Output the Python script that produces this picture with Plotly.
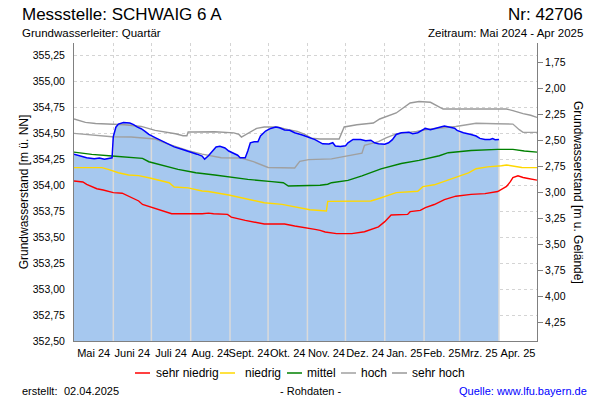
import numpy as np
import pandas as pd
import plotly.graph_objects as go

# ---------------- data ----------------
mess_dates = ["2024-05-01","2024-05-06","2024-05-11","2024-05-17","2024-05-21","2024-05-25","2024-05-29","2024-05-31",
              "2024-06-01","2024-06-03","2024-06-05","2024-06-09","2024-06-14","2024-06-17","2024-06-20","2024-06-23",
              "2024-06-26","2024-06-29","2024-07-04","2024-07-09","2024-07-14","2024-07-19","2024-07-25","2024-07-30",
              "2024-08-06","2024-08-10","2024-08-12","2024-08-15","2024-08-18","2024-08-21","2024-08-24","2024-08-28",
              "2024-08-31","2024-09-04","2024-09-07","2024-09-09","2024-09-13","2024-09-15","2024-09-17","2024-09-20",
              "2024-09-23","2024-09-25","2024-09-29","2024-10-03","2024-10-07","2024-10-10","2024-10-14","2024-10-18",
              "2024-10-22","2024-10-28","2024-11-02","2024-11-07","2024-11-13","2024-11-18","2024-11-21","2024-11-23",
              "2024-11-27","2024-12-01","2024-12-03","2024-12-07","2024-12-13","2024-12-17","2024-12-21","2024-12-24",
              "2024-12-27","2025-01-01","2025-01-04","2025-01-07","2025-01-10","2025-01-14","2025-01-20","2025-01-23",
              "2025-01-27","2025-01-30","2025-02-02","2025-02-06","2025-02-10","2025-02-14","2025-02-17","2025-02-21",
              "2025-02-25","2025-02-27","2025-03-04","2025-03-10","2025-03-14","2025-03-17","2025-03-21","2025-03-25",
              "2025-03-27","2025-03-29","2025-04-01"]
mess_vals = [354.300,354.285,354.265,354.255,354.262,354.252,354.258,354.265,
             354.470,354.560,354.590,354.605,354.600,354.585,354.560,354.545,
             354.520,354.490,354.460,354.430,354.395,354.370,354.347,354.330,
             354.300,354.282,354.252,354.285,354.330,354.370,354.375,354.360,
             354.330,354.310,354.290,354.266,354.266,354.330,354.410,354.420,
             354.420,354.475,354.523,354.548,354.562,354.555,354.533,354.530,
             354.507,354.485,354.465,354.440,354.400,354.398,354.410,354.378,
             354.373,354.380,354.410,354.442,354.442,354.430,354.435,354.410,
             354.400,354.395,354.410,354.440,354.490,354.507,354.510,354.497,
             354.507,354.528,354.548,354.535,354.545,354.562,354.570,354.562,
             354.550,354.529,354.507,354.490,354.475,354.452,354.442,354.442,
             354.450,354.440,354.442]

sn_dates = ["2024-05-01","2024-05-08","2024-05-11","2024-05-15","2024-05-19","2024-05-24","2024-05-28","2024-06-01",
            "2024-06-08","2024-06-13","2024-06-17","2024-06-21","2024-06-24","2024-06-29","2024-07-04","2024-07-09",
            "2024-07-15","2024-07-17","2024-08-10","2024-08-15","2024-08-19","2024-08-30","2024-09-02","2024-09-13",
            "2024-09-28","2024-10-14","2024-10-22","2024-11-02","2024-11-07","2024-11-11","2024-11-15","2024-11-24",
            "2024-12-06","2024-12-16","2024-12-21","2024-12-27","2025-01-01","2025-01-06","2025-01-19","2025-01-21",
            "2025-01-29","2025-02-02","2025-02-09","2025-02-13","2025-02-17","2025-02-26","2025-03-10","2025-03-21",
            "2025-03-31","2025-04-04","2025-04-07","2025-04-10","2025-04-12","2025-04-16","2025-04-20","2025-04-24",
            "2025-05-01"]
sn_vals = [354.041,354.032,354.009,353.987,353.967,353.955,353.945,353.929,
           353.924,353.897,353.874,353.849,353.816,353.797,353.777,353.758,
           353.739,353.726,353.726,353.732,353.726,353.720,353.694,353.662,
           353.627,353.627,353.608,353.590,353.575,353.566,353.550,353.534,
           353.534,353.553,353.571,353.600,353.650,353.714,353.720,353.746,
           353.758,353.785,353.815,353.840,353.862,353.895,353.913,353.920,
           353.940,353.968,353.990,354.035,354.074,354.092,354.075,354.066,
           354.050]

ni_dates = ["2024-05-01","2024-05-23","2024-05-28","2024-06-05","2024-06-13","2024-06-21","2024-06-29","2024-07-07",
            "2024-07-15","2024-07-19","2024-07-30","2024-08-10","2024-08-15","2024-08-31","2024-09-15","2024-09-28",
            "2024-10-12","2024-10-22","2024-11-03","2024-11-11","2024-11-16","2024-11-17","2024-12-21","2024-12-28",
            "2025-01-06","2025-01-10","2025-01-27","2025-01-31","2025-02-09","2025-02-20","2025-02-28","2025-03-08",
            "2025-03-14","2025-03-23","2025-04-03","2025-04-07","2025-04-19","2025-05-01"]
ni_vals = [354.170,354.170,354.153,354.121,354.099,354.093,354.073,354.047,
           354.025,353.984,353.975,353.945,353.940,353.907,353.864,353.832,
           353.816,353.795,353.765,353.757,353.752,353.845,353.849,353.875,
           353.912,353.930,353.943,353.987,354.005,354.055,354.090,354.120,
           354.160,354.178,354.188,354.196,354.172,354.170]

mi_dates = ["2024-05-01","2024-05-15","2024-05-31","2024-06-16","2024-06-24","2024-06-29","2024-07-09","2024-07-22",
            "2024-08-02","2024-08-05","2024-08-20","2024-08-31","2024-09-15","2024-10-04","2024-10-13","2024-10-17",
            "2024-11-03","2024-11-11","2024-11-17","2024-11-20","2024-12-03","2024-12-14","2024-12-29","2025-01-14",
            "2025-01-28","2025-02-13","2025-02-20","2025-03-10","2025-03-31","2025-04-12","2025-04-21","2025-05-01"]
mi_vals = [354.320,354.298,354.282,354.266,354.260,354.227,354.196,354.153,
           354.128,354.121,354.099,354.080,354.057,354.035,354.025,353.993,
           353.993,354.000,354.010,354.025,354.047,354.090,354.158,354.210,
           354.240,354.285,354.314,354.336,354.346,354.346,354.330,354.320]

ho_dates = ["2024-05-01","2024-05-18","2024-05-31","2024-06-15","2024-06-21","2024-06-29","2024-07-04","2024-07-12",
            "2024-07-20","2024-07-30","2024-08-10","2024-08-25","2024-09-10","2024-09-20","2024-10-01","2024-10-22",
            "2024-10-26","2024-11-02","2024-11-20","2024-12-02","2024-12-14","2024-12-16","2024-12-20","2024-12-27",
            "2025-01-02","2025-01-10","2025-01-26","2025-02-06","2025-02-26","2025-03-14","2025-03-30","2025-04-12",
            "2025-04-17","2025-04-20","2025-05-01"]
ho_vals = [354.500,354.478,354.468,354.465,354.459,354.450,354.446,354.407,
           354.372,354.333,354.300,354.266,354.263,354.225,354.172,354.167,
           354.230,354.247,354.255,354.283,354.310,354.385,354.400,354.420,
           354.456,354.495,354.520,354.542,354.567,354.598,354.593,354.590,
           354.536,354.510,354.510]

sh_dates = ["2024-05-01","2024-05-10","2024-05-18","2024-06-10","2024-06-23","2024-07-04","2024-07-20","2024-07-26",
            "2024-07-29","2024-07-30","2024-08-04","2024-08-20","2024-09-04","2024-09-08","2024-09-10","2024-09-15",
            "2024-09-18","2024-09-22","2024-09-28","2024-10-08","2024-10-17","2024-10-24","2024-10-30","2024-11-04",
            "2024-11-11","2024-11-26","2024-11-30","2024-12-10","2024-12-23","2024-12-28","2025-01-10","2025-01-15",
            "2025-01-21","2025-01-28","2025-02-06","2025-02-16","2025-04-07","2025-04-12","2025-04-20","2025-04-26",
            "2025-05-01"]
sh_vals = [354.639,354.606,354.595,354.584,354.567,354.529,354.497,354.478,
           354.478,354.513,354.513,354.516,354.505,354.490,354.465,354.500,
           354.520,354.548,354.562,354.562,354.535,354.520,354.490,354.455,
           354.446,354.446,354.562,354.584,354.600,354.639,354.697,354.740,
           354.793,354.808,354.800,354.735,354.735,354.720,354.690,354.675,
           354.654]

month_en = ["May 24","Jun 24","Jul 24","Aug 24","Sep 24","Oct 24","Nov 24","Dec 24","Jan 25","Feb 25","Mar 25","Apr 25"]
month_de = ["Mai 24","Juni 24","Juli 24","Aug. 24","Sept. 24","Okt. 24","Nov. 24","Dez. 24","Jan. 25","Feb. 25","Mrz. 25","Apr. 25"]

series_names = ["sehr niedrig", "niedrig", "mittel", "hoch", "sehr hoch"]
series_colors = ["#FF0000", "#FFD800", "#008000", "#A0A0A0", "#999999"]

Y_MIN, Y_MAX = 352.5, 355.371
GROUND = 356.932   # Geländehöhe (m ü. NN) for the right axis

# ---------------- geometry helpers ----------------
W, H = 600, 400
ML, MR, MT, MB = 74, 63, 43, 59
PW, PH = W - ML - MR, H - MT - MB
def px(x):
    return (x - ML) / PW
def py(y):
    return (H - MB - y) / PH

FONT = "Liberation Sans, Arial, sans-serif"

fig = go.Figure()

# filled measurement area
fig.add_trace(go.Scatter(x=mess_dates, y=mess_vals, mode="lines", fill="tozeroy",
                         fillcolor="#A6C8EF", line=dict(width=0, color="#A6C8EF"),
                         hoverinfo="skip", showlegend=False))

# month grid lines drawn over the filled area
mt = pd.to_datetime(mess_dates)
gm = pd.date_range("2024-06-01", "2025-04-01", freq="MS")
tops = np.interp(gm.asi8, mt.asi8, mess_vals)
gx, gy = [], []
for d, v in zip(gm, tops):
    gx += [d, d, None]
    gy += [Y_MIN, v, None]
fig.add_trace(go.Scatter(x=gx, y=gy, mode="lines", line=dict(color="#DADADA", width=1.5),
                         hoverinfo="skip", showlegend=False))

stats = [(sh_dates, sh_vals, 4), (ho_dates, ho_vals, 3), (mi_dates, mi_vals, 2),
         (ni_dates, ni_vals, 1), (sn_dates, sn_vals, 0)]
for d, v, i in stats:
    fig.add_trace(go.Scatter(x=d, y=v, mode="lines", name=series_names[i],
                             line=dict(color=series_colors[i], width=1.4),
                             showlegend=False))

# measurement line
fig.add_trace(go.Scatter(x=mess_dates, y=mess_vals, mode="lines", name="Messwert",
                         line=dict(color="#0000FF", width=1.5), showlegend=False))

# invisible trace to create the right axis
fig.add_trace(go.Scatter(x=[mess_dates[0]], y=[None], yaxis="y2", mode="lines",
                         hoverinfo="skip", showlegend=False))

fig.update_layout(
    width=W, height=H, autosize=False,
    margin=dict(l=ML, r=MR, t=MT, b=MB),
    paper_bgcolor="white", plot_bgcolor="white",
    separators=",.",
    font=dict(family=FONT, size=11, color="black"),
    xaxis=dict(type="date", range=["2024-05-01", "2025-05-01"],
               tick0="2024-05-01", dtick="M1", ticklabelmode="period",
               tickformat="%b %y", labelalias=dict(zip(month_en, month_de)),
               tickangle=0, ticks="", showgrid=True, gridcolor="#D4D4D4",
               griddash="3px,3px", gridwidth=1, showline=True,
               linecolor="#808080", linewidth=1, zeroline=False,
               tickfont=dict(size=11), ticklabelstandoff=2),
    yaxis=dict(range=[Y_MIN, Y_MAX], tick0=352.5, dtick=0.25, tickformat=".2f",
               showgrid=True, gridcolor="#D4D4D4", griddash="3px,3px",
               showline=True, linecolor="#808080", linewidth=1, zeroline=False,
               ticks="", ticklabelstandoff=6, tickfont=dict(size=10.5),
               title=dict(text="Grundwasserstand [m ü. NN]", font=dict(size=12),
                          standoff=1)),
    yaxis2=dict(overlaying="y", side="right", anchor="x",
                range=[GROUND - Y_MIN, GROUND - Y_MAX],
                tickvals=[1.75, 2.0, 2.25, 2.5, 2.75, 3.0, 3.25, 3.5, 3.75, 4.0, 4.25],
                tickformat=".2f",
                showgrid=False, showline=True, linecolor="#808080", linewidth=1,
                zeroline=False, ticks="outside", ticklen=5, tickcolor="#808080",
                tickfont=dict(size=10.5)),
)

ann = []
def text(x, y, s, size, xanchor="left", color="black", angle=0):
    ann.append(dict(x=px(x), y=py(y), xref="paper", yref="paper", text=s,
                    showarrow=False, xanchor=xanchor, yanchor="middle",
                    textangle=angle, font=dict(family=FONT, size=size, color=color)))

text(20, 15, "Messstelle: SCHWAIG 6 A", 17)
text(585, 15, "Nr: 42706", 17, xanchor="right")
text(20, 33, "Grundwasserleiter: Quartär", 11.5)
text(585, 33, "Zeitraum: Mai 2024 - Apr 2025", 11.5, xanchor="right")
text(578, 192, "Grundwasserstand [m u. Gelände]", 12, xanchor="center", angle=90)
text(20, 391, "erstellt:", 11)
text(62, 391, "02.04.2025", 11)
text(310, 391, "- Rohdaten -", 11, xanchor="center")
text(589, 391, "Quelle: www.lfu.bayern.de", 11, xanchor="right", color="#0000FF")

# legend (line sample + label)
leg = [(135, 153.5), (220, 242.8), (287, 304.7), (341, 359), (392, 409.8)]
shapes = []
for i, (lx, tx) in enumerate(leg):
    shapes.append(dict(type="line", xref="paper", yref="paper",
                       x0=px(lx), x1=px(lx + 15), y0=py(373), y1=py(373),
                       line=dict(color=series_colors[i], width=1.5)))
    text(tx, 373, series_names[i], 12)

fig.update_layout(annotations=ann, shapes=shapes)

fig.write_html("out.html", config={"displayModeBar": False},
               post_script="document.body.style.margin='0';document.body.style.overflow='hidden';")
